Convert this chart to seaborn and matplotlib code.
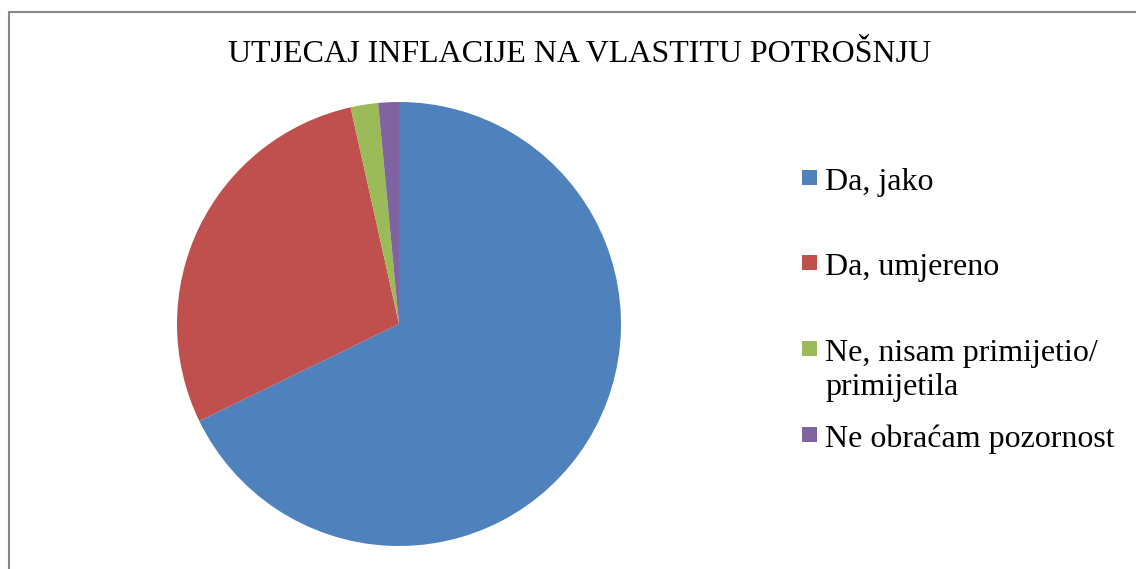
import matplotlib
matplotlib.use("Agg")
import matplotlib.pyplot as plt
import seaborn as sns
from matplotlib.patches import Rectangle

# podaci
kategorije = ["Da, jako", "Da, umjereno", "Ne, nisam primijetio/\nprimijetila", "Ne obraćam pozornost"]
postotci = [67.8, 28.7, 2.0, 1.5]
boje = ["#4F81BD", "#C0504D", "#9BBB59", "#8064A2"]
naslov = "UTJECAJ INFLACIJE NA VLASTITU POTROŠNJU"

sns.set_theme(style="white")
plt.rcParams['font.family'] = ['Liberation Serif', 'DejaVu Serif']

W, H = 1136, 569
fig = plt.figure(figsize=(W / 100, H / 100), dpi=100)

# okvir grafikona
fig.patches.append(Rectangle((9 / W, -0.2), 1.2, 1.2 - 12 / H, transform=fig.transFigure,
                             fill=False, edgecolor="#878787", linewidth=1.5))

ax = fig.add_axes([177 / W, 23 / H, 444 / W, 444 / H])
ax.pie(postotci, colors=sns.color_palette(boje), startangle=90, counterclock=False,
       radius=1, wedgeprops={"linewidth": 0})
ax.set_xlim(-1, 1)
ax.set_ylim(-1, 1)
ax.set_aspect("equal")
ax.axis("off")

fig.text(580 / W, 1 - 62 / H, naslov, ha="center", va="baseline", fontsize=23, color="black")

# legenda (baseline prvog retka u pikselima)
leg_base = [190, 275, 361, 447]
for lab, c, y in zip(kategorije, boje, leg_base):
    fig.patches.append(Rectangle((802 / W, 1 - (y - 5) / H), 15 / W, 15 / H,
                                 transform=fig.transFigure, facecolor=c, edgecolor="none"))
    for i, red in enumerate(lab.split("\n")):
        fig.text(825 / W, 1 - (y + 34 * i) / H, red, ha="left", va="baseline",
                 fontsize=23, color="black")

fig.savefig("out.png", dpi=100)
